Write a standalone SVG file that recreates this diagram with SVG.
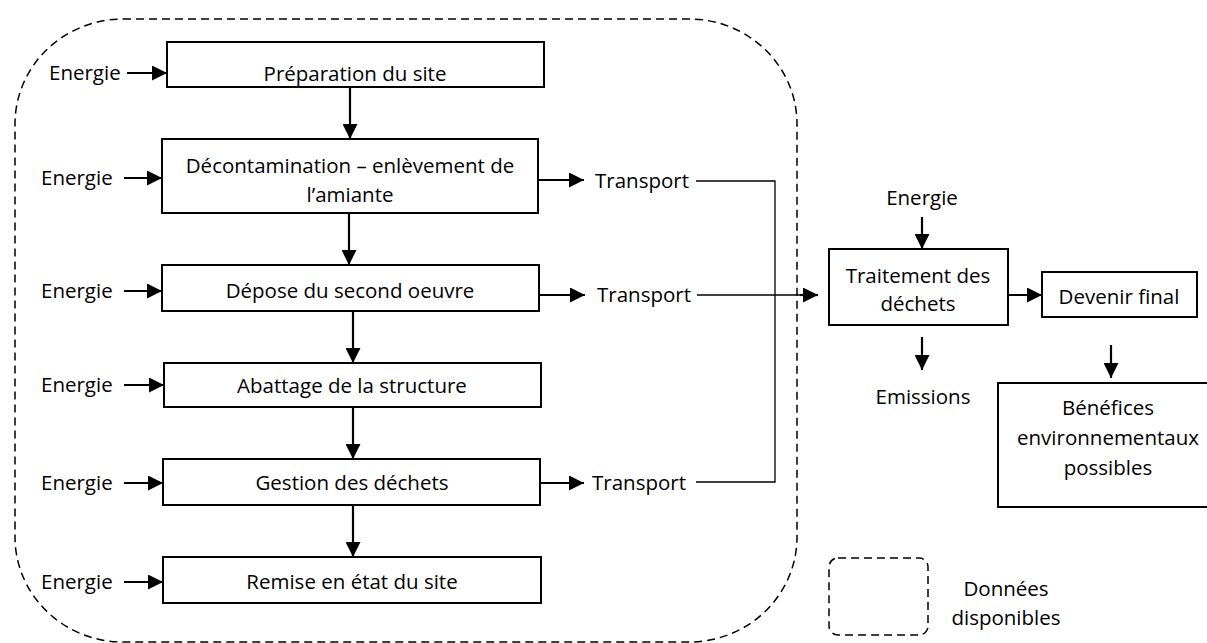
<svg xmlns="http://www.w3.org/2000/svg" width="1207" height="643" viewBox="0 0 1207 643">
<style>
.box{fill:#fff;stroke:#000;stroke-width:2}
.t{font-family:"Open Sans","Liberation Sans",sans-serif;font-size:20.5px;fill:#000;dominant-baseline:central}
.c{text-anchor:middle}
.arr{stroke:#000;stroke-width:2.2;fill:none;marker-end:url(#ah)}
.ln{stroke:#000;stroke-width:1.3;fill:none}
.dash{fill:none;stroke:#000;stroke-width:1.5;stroke-dasharray:8 5}
</style>
<defs>
<marker id="ah" markerUnits="userSpaceOnUse" markerWidth="16" markerHeight="15" refX="15" refY="7.5" orient="auto">
<path d="M0,0 L15,7.5 L0,15 Z" fill="#000"/>
</marker>
</defs>
<rect id="boundary" class="dash" x="15" y="19" width="782" height="623" rx="108" ry="105"/>
<g id="connectors">
<line class="arr" x1="127" y1="73" x2="167" y2="73"/>
<line class="arr" x1="124" y1="178" x2="162" y2="178"/>
<line class="arr" x1="124" y1="291" x2="162" y2="291"/>
<line class="arr" x1="124" y1="385" x2="164" y2="385"/>
<line class="arr" x1="124" y1="483" x2="163" y2="483"/>
<line class="arr" x1="124" y1="582" x2="163" y2="582"/>
<line class="arr" x1="350" y1="87" x2="350" y2="139"/>
<line class="arr" x1="349" y1="213" x2="349" y2="265"/>
<line class="arr" x1="353" y1="311" x2="353" y2="363"/>
<line class="arr" x1="353" y1="407" x2="353" y2="459"/>
<line class="arr" x1="353" y1="505" x2="353" y2="557"/>
<line class="arr" x1="538" y1="180" x2="584" y2="180"/>
<line class="arr" x1="539" y1="295" x2="585" y2="295"/>
<line class="arr" x1="540" y1="483" x2="584" y2="483"/>
<polyline class="ln" points="696,181 775,181 775,482 696,482"/>
<line class="ln" x1="697" y1="295" x2="805" y2="295"/>
<line class="arr" x1="800" y1="295" x2="818" y2="295"/>
<line class="arr" x1="922" y1="217" x2="922" y2="249"/>
<line class="arr" x1="1008" y1="295" x2="1042" y2="295"/>
<line class="arr" x1="922" y1="337" x2="922" y2="370"/>
<line class="arr" x1="1111" y1="345" x2="1111" y2="378"/>
</g>
<g id="n1"><rect class="box" x="167" y="42" width="377" height="45"/><text class="t c" x="355" y="73">Préparation du site</text></g>
<g id="n2"><rect class="box" x="162" y="139" width="376" height="74"/><text class="t c" x="350" y="165">Décontamination – enlèvement de</text><text class="t c" x="350" y="194">l’amiante</text></g>
<g id="n3"><rect class="box" x="162" y="265" width="377" height="46"/><text class="t c" x="350" y="290">Dépose du second oeuvre</text></g>
<g id="n4"><rect class="box" x="164" y="363" width="377" height="44"/><text class="t c" x="352" y="385">Abattage de la structure</text></g>
<g id="n5"><rect class="box" x="163" y="459" width="377" height="46"/><text class="t c" x="352" y="482">Gestion des déchets</text></g>
<g id="n6"><rect class="box" x="163" y="557" width="378" height="46"/><text class="t c" x="352" y="581">Remise en état du site</text></g>
<g id="e1"><text class="t" x="49" y="72">Energie</text></g>
<g id="e2"><text class="t" x="41" y="177">Energie</text></g>
<g id="e3"><text class="t" x="41" y="290">Energie</text></g>
<g id="e4"><text class="t" x="41" y="384">Energie</text></g>
<g id="e5"><text class="t" x="41" y="482">Energie</text></g>
<g id="e6"><text class="t" x="41" y="581">Energie</text></g>
<g id="tr1"><text class="t" x="595" y="180">Transport</text></g>
<g id="tr2"><text class="t" x="597" y="294">Transport</text></g>
<g id="tr3"><text class="t" x="592" y="482">Transport</text></g>
<g id="e7"><text class="t c" x="922" y="197">Energie</text></g>
<g id="n7"><rect class="box" x="829" y="249" width="179" height="76"/><text class="t c" x="918" y="275">Traitement des</text><text class="t c" x="918" y="303">déchets</text></g>
<g id="n8"><rect class="box" x="1042" y="272" width="155" height="45"/><text class="t c" x="1119" y="296">Devenir final</text></g>
<g id="em"><text class="t c" x="923" y="396">Emissions</text></g>
<g id="n9"><rect class="box" x="998" y="383" width="220" height="124"/><text class="t c" x="1108" y="407">Bénéfices</text><text class="t c" x="1108" y="437">environnementaux</text><text class="t c" x="1108" y="467">possibles</text></g>
<g id="legend"><rect class="dash" x="829" y="558" width="99" height="77" rx="9"/><text class="t c" x="1006" y="588">Données</text><text class="t c" x="1006" y="617">disponibles</text></g>
</svg>
